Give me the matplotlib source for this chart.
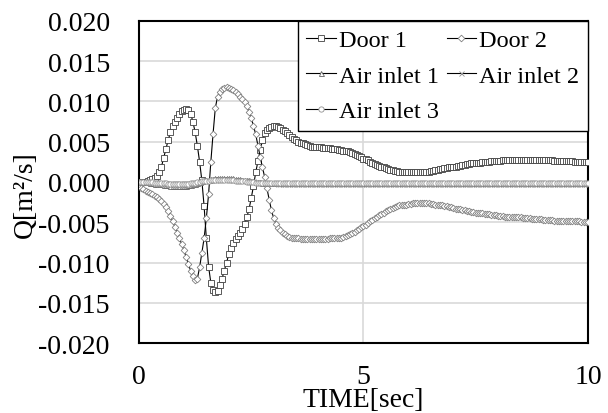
import numpy as np
import matplotlib
matplotlib.use('Agg')
import matplotlib.pyplot as plt

# time axis [sec], one sample every 0.05 s
time_sec = np.linspace(0, 10, 201)

# flow rates, in units of 1e-4 m2/s
door1 = [
    0, 0, 0, 0, 1, 2, 4, 5, 7, 12,
    19, 30, 41, 52, 62, 69, 74, 79, 84, 88,
    90, 91, 90, 85, 75, 62, 45, 25, 2, -30,
    -70, -105, -125, -134, -137, -135, -128, -120, -110, -100,
    -90, -82, -76, -71, -67, -63, -58, -52, -44, -34,
    -20, -5, 12, 26, 40, 52, 61, 65, 67, 68,
    69, 69, 68, 67, 65, 63, 61, 58, 56, 54,
    52, 50, 49, 48, 47, 46, 45, 44, 44, 43,
    43, 43, 42, 42, 42, 42, 41, 41, 41, 40,
    40, 39, 39, 38, 37, 36, 35, 34, 32, 31,
    29, 28, 27, 25, 24, 22, 21, 20, 19, 18,
    17, 16, 15, 15, 14, 14, 13, 13, 12, 12,
    12, 12, 12, 12, 12, 12, 12, 13, 13, 13,
    14, 14, 15, 15, 16, 16, 17, 17, 18, 18,
    19, 19, 20, 20, 21, 21, 22, 22, 23, 23,
    24, 24, 24, 25, 25, 25, 25, 26, 26, 26,
    26, 26, 27, 27, 27, 27, 27, 27, 27, 27,
    27, 27, 27, 27, 27, 27, 27, 27, 27, 27,
    27, 27, 27, 27, 27, 26, 26, 26, 26, 26,
    26, 26, 26, 26, 25, 25, 25, 25, 25, 25,
    25]
door2 = [
    -4, -7, -9, -11, -13, -14, -15, -17, -19, -21,
    -24, -27, -31, -36, -42, -49, -56, -63, -70, -77,
    -85, -93, -102, -110, -117, -122, -120, -106, -88, -70,
    -45, -15, 25, 60, 92, 106, 112, 115, 117, 118,
    117, 116, 114, 112, 109, 106, 103, 99, 94, 87,
    79, 70, 59, 45, 31, 18, 6, -8, -22, -35,
    -45, -52, -57, -60, -63, -65, -67, -68, -69, -70,
    -70, -70, -71, -71, -71, -71, -71, -71, -71, -71,
    -71, -71, -71, -71, -71, -70, -70, -70, -70, -69,
    -69, -68, -67, -66, -65, -63, -62, -60, -58, -56,
    -55, -53, -51, -49, -47, -45, -43, -41, -40, -38,
    -36, -35, -33, -32, -31, -30, -29, -29, -28, -28,
    -27, -27, -26, -26, -26, -26, -26, -26, -26, -26,
    -27, -27, -28, -28, -29, -29, -30, -30, -31, -31,
    -32, -33, -33, -34, -35, -35, -36, -36, -37, -37,
    -38, -38, -39, -39, -40, -40, -40, -41, -41, -41,
    -42, -42, -42, -43, -43, -43, -43, -44, -44, -44,
    -44, -45, -45, -45, -45, -46, -46, -46, -46, -46,
    -47, -47, -47, -47, -47, -48, -48, -48, -48, -48,
    -48, -49, -49, -49, -49, -49, -49, -50, -50, -50,
    -50]
air_inlet1 = [
    0, 0, 0, 0, 0, -1, -1, -2, -2, -3,
    -3, -4, -4, -4, -5, -5, -5, -5, -5, -5,
    -5, -5, -4, -4, -3, -2, -1, 0, 1, 2,
    3, 3, 4, 4, 5, 5, 5, 5, 5, 5,
    5, 5, 5, 4, 4, 4, 3, 3, 2, 2,
    1, 1, 0, 0, 0, -1, -1, -1, -1, -1,
    -1, -1, -1, -1, -1, -1, -1, -1, -1, -1,
    -1, -1, -1, -1, -1, -1, -1, -1, -1, -1,
    -1, -1, -1, -1, -1, -1, -1, -1, -1, -1,
    -1, -1, -1, -1, -1, -1, -1, -1, -1, -1,
    -1, -1, -1, -1, -1, -1, -1, -1, -1, -1,
    -1, -1, -1, -1, -1, -1, -1, -1, -1, -1,
    -1, -1, -1, -1, -1, -1, -1, -1, -1, -1,
    -1, -1, -1, -1, -1, -1, -1, -1, -1, -1,
    -1, -1, -1, -1, -1, -1, -1, -1, -1, -1,
    -1, -1, -1, -1, -1, -1, -1, -1, -1, -1,
    -1, -1, -1, -1, -1, -1, -1, -1, -1, -1,
    -1, -1, -1, -1, -1, -1, -1, -1, -1, -1,
    -1, -1, -1, -1, -1, -1, -1, -1, -1, -1,
    -1, -1, -1, -1, -1, -1, -1, -1, -1, -1,
    -1]
air_inlet2 = [
    0, 0, 0, 0, 0, 0, -1, -1, -1, -2,
    -2, -2, -3, -3, -3, -3, -4, -4, -4, -4,
    -4, -3, -3, -3, -2, -2, -1, 0, 1, 1,
    2, 2, 3, 3, 3, 4, 4, 4, 4, 4,
    4, 4, 3, 3, 3, 3, 2, 2, 2, 1,
    1, 1, 0, 0, 0, 0, -1, -1, -1, -1,
    -1, -1, -2, -2, -2, -2, -2, -2, -2, -2,
    -2, -2, -2, -2, -2, -2, -2, -2, -2, -2,
    -2, -2, -2, -2, -2, -2, -2, -2, -2, -2,
    -2, -2, -2, -2, -2, -2, -2, -2, -2, -2,
    -2, -2, -2, -2, -2, -2, -2, -2, -2, -2,
    -2, -2, -2, -2, -2, -2, -2, -2, -2, -2,
    -2, -2, -2, -2, -2, -2, -2, -2, -2, -2,
    -2, -2, -2, -2, -2, -2, -2, -2, -2, -2,
    -2, -2, -2, -2, -2, -2, -2, -2, -2, -2,
    -2, -2, -2, -2, -2, -2, -2, -2, -2, -2,
    -2, -2, -2, -2, -2, -2, -2, -2, -2, -2,
    -2, -2, -2, -2, -2, -2, -2, -2, -2, -2,
    -2, -2, -2, -2, -2, -2, -2, -2, -2, -2,
    -2, -2, -2, -2, -2, -2, -2, -2, -2, -2,
    -2]
air_inlet3 = [
    0, 0, 0, 0, 0, 0, 0, -1, -1, -1,
    -1, -1, -1, -2, -2, -2, -2, -2, -2, -2,
    -2, -2, -2, -1, -1, -1, 0, 0, 1, 1,
    1, 1, 2, 2, 2, 2, 2, 2, 2, 2,
    2, 2, 2, 1, 1, 1, 1, 1, 0, 0,
    0, 0, -1, -1, -1, -1, -1, -1, -1, -1,
    -1, -1, -1, -1, -1, -1, -1, -1, -1, -1,
    -1, -1, -1, -1, -1, -1, -1, -1, -1, -1,
    -1, -1, -1, -1, -1, -1, -1, -1, -1, -1,
    -1, -1, -1, -1, -1, -1, -1, -1, -1, -1,
    -1, -1, -1, -1, -1, -1, -1, -1, -1, -1,
    -1, -1, -1, -1, -1, -1, -1, -1, -1, -1,
    -1, -1, -1, -1, -1, -1, -1, -1, -1, -1,
    -1, -1, -1, -1, -1, -1, -1, -1, -1, -1,
    -1, -1, -1, -1, -1, -1, -1, -1, -1, -1,
    -1, -1, -1, -1, -1, -1, -1, -1, -1, -1,
    -1, -1, -1, -1, -1, -1, -1, -1, -1, -1,
    -1, -1, -1, -1, -1, -1, -1, -1, -1, -1,
    -1, -1, -1, -1, -1, -1, -1, -1, -1, -1,
    -1, -1, -1, -1, -1, -1, -1, -1, -1, -1,
    -1]

labels = ['Door 1', 'Door 2', 'Air inlet 1', 'Air inlet 2', 'Air inlet 3']
x_ticks = [0, 5, 10]
y_ticks = [-0.020, -0.015, -0.010, -0.005, 0.000, 0.005, 0.010, 0.015, 0.020]

plt.rcParams['font.family'] = ['Liberation Serif', 'DejaVu Serif']
plt.rcParams['font.size'] = 20

fig = plt.figure(figsize=(6.08, 4.14), dpi=100)
ax = fig.add_axes([0.2286, 0.169, 0.7385, 0.778])

series = [door1, door2, air_inlet1, air_inlet2, air_inlet3]
markers = ['s', 'D', '^', 'x', 'o']
sizes = [4.0, 3.4, 3.6, 3.6, 3.8]
edge_colors = ['#404040', '#808080', '#606060', '#909090', '#909090']

handles = []
for values, label, mk, ms, ec in zip(series, labels, markers, sizes, edge_colors):
    h, = ax.plot(time_sec, np.array(values) * 1e-4, '-', color='black', lw=0.8,
                 marker=mk, markersize=ms, markerfacecolor='white',
                 markeredgecolor=ec, markeredgewidth=0.6, label=label, zorder=3)
    handles.append(h)

ax.set_xlim(0, 10)
ax.set_ylim(-0.020, 0.020)
ax.set_xticks(x_ticks)
ax.set_yticks(y_ticks)
ax.set_yticklabels([f'{v:.3f}' for v in y_ticks])
ax.tick_params(length=0)
ax.tick_params(axis='y', pad=21)
ax.tick_params(axis='x', pad=15)
ax.grid(color='#d9d9d9', lw=1.2, zorder=0)
ax.set_axisbelow(True)
for s in ax.spines.values():
    s.set_linewidth(1.5)

ax.set_xlabel('TIME[sec]')
ax.set_ylabel('Q[m²/s]')
ax.xaxis.set_label_coords(0.5, -0.135)
ax.yaxis.set_label_coords(-0.225, 0.463)

# legend fills row by row in the reference: reorder for matplotlib's column fill
order = [0, 2, 4, 1, 3]
leg = ax.legend([handles[i] for i in order], [labels[i] for i in order],
                ncol=2, loc='upper right', fontsize=17.5, frameon=True,
                fancybox=False, framealpha=1, edgecolor='black',
                borderaxespad=0, borderpad=0.35, handlelength=1.2,
                handletextpad=0.15, columnspacing=0.3, labelspacing=0.55)
leg.get_frame().set_linewidth(1.0)

fig.savefig('out.png', dpi=100)
